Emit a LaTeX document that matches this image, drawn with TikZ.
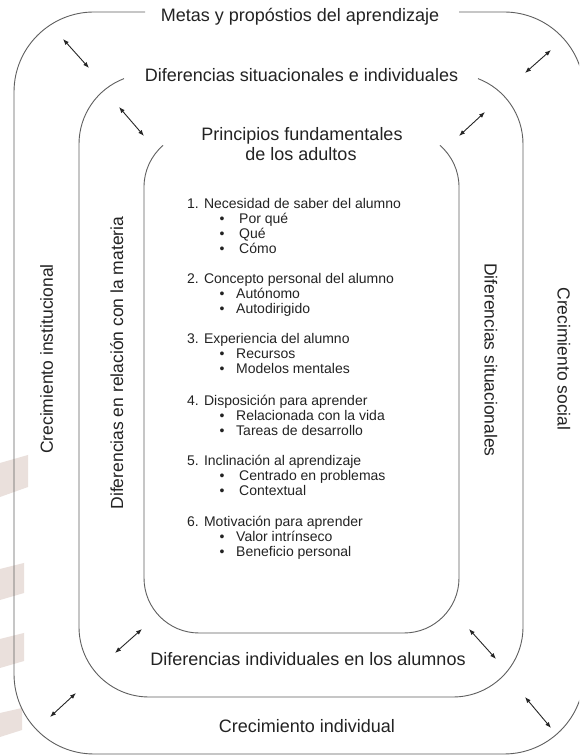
\documentclass[tikz,border=0pt]{standalone}
\usepackage{fontspec}
\setmainfont{Liberation Sans}
\usetikzlibrary{arrows.meta}
\definecolor{framegray}{RGB}{95,95,95}
\definecolor{txt}{RGB}{35,35,35}
\definecolor{wmcol}{RGB}{234,224,220}
\begin{document}
\begin{tikzpicture}[x=1pt,y=1pt,
  frame/.style={draw=framegray, line width=0.9pt},
  ttl/.style={font=\fontsize{18}{20}\selectfont, text=txt, anchor=base, inner sep=0pt},
  vlab/.style={font=\fontsize{17.5}{20}\selectfont, text=txt, anchor=base, inner sep=0pt},
  item/.style={font=\fontsize{14}{15}\selectfont, text=txt, anchor=base west, inner sep=0pt},
  bul/.style={font=\fontsize{14}{15}\selectfont, text=txt, anchor=base, inner sep=0pt},
  dbl/.style={{Latex[length=6pt,width=4.5pt]}-{Latex[length=6pt,width=4.5pt]}, line width=0.9pt, draw=black!85},
  wm/.style={fill=wmcol, draw=none}]
\useasboundingbox (0,0) rectangle (579,755);
\begin{scope}
\clip (0,0) rectangle (579,755);
\fill[white] (0,0) rectangle (579,755);
% faint background watermark stripes
\fill[wm] (0,258) -- (28,268) -- (28,300) -- (0,292) -- cycle;
\fill[wm] (0,155) -- (24,162) -- (24,192) -- (0,186) -- cycle;
\fill[wm] (0,87) -- (24,94) -- (24,122) -- (0,116) -- cycle;
\fill[wm] (0,18) -- (22,25) -- (22,47) -- (0,42) -- cycle;
% outer frame
\draw[frame] (145,743) -- (94,743) arc[start angle=90,end angle=180,radius=80]
  -- (14,81) arc[start angle=180,end angle=270,radius=80]
  -- (504,1) arc[start angle=270,end angle=360,radius=80]
  -- (584,663) arc[start angle=0,end angle=90,radius=80] -- (459,743);
% middle frame
\draw[frame] ([shift={(149,611)}]110.9:70) arc[start angle=110.9,end angle=180,radius=70]
  -- (79,128) arc[start angle=180,end angle=270,radius=70]
  -- (453,58) arc[start angle=270,end angle=360,radius=70]
  -- (523,611) arc[start angle=0,end angle=69.1,radius=70];
% inner frame
\draw[frame] ([shift={(199,568)}]130.9:55) arc[start angle=130.9,end angle=180,radius=55]
  -- (144,177) arc[start angle=180,end angle=270,radius=55]
  -- (404,122) arc[start angle=270,end angle=360,radius=55]
  -- (459,568) arc[start angle=0,end angle=49.1,radius=55];
\end{scope}

% titles
\node[ttl] (metas) at (300,733) {Metas y propóstios del aprendizaje};
\node[ttl] (difsi) at (301.5,673) {Diferencias situacionales e individuales};
\node[ttl] (princ) at (302,614) {Principios fundamentales};
\node[ttl] (adult) at (301,594) {de los adultos};
\node[ttl] (difal) at (308,89) {Diferencias individuales en los alumnos};
\node[ttl] (crind) at (307,22) {Crecimiento individual};

% side labels
\node[vlab, rotate=90] (crinst) at (53,396) {Crecimiento institucional};
\node[vlab, rotate=90] (difmat) at (123,392) {Diferencias en relación con la materia};
\node[vlab, rotate=-90] (difsit) at (484.5,395) {Diferencias situacionales};
\node[vlab, rotate=-90] (crsoc) at (557.5,396) {Crecimiento social};

% list
\node[item] (h1) at (187,546.4) {1. Necesidad de saber del alumno};
\node[bul] (d11) at (222,531.4) {•}; \node[item] (t11) at (239,531.4) {Por qué};
\node[bul] (d12) at (222,516.4) {•}; \node[item] (t12) at (239,516.4) {Qué};
\node[bul] (d13) at (222,501.4) {•}; \node[item] (t13) at (239,501.4) {Cómo};

\node[item] (h2) at (187,471.4) {2. Concepto personal del alumno};
\node[bul] (d21) at (222,456.4) {•}; \node[item] (t21) at (236,456.4) {Autónomo};
\node[bul] (d22) at (222,441.4) {•}; \node[item] (t22) at (236,441.4) {Autodirigido};

\node[item] (h3) at (187,411.4) {3. Experiencia del alumno};
\node[bul] (d31) at (222,396.4) {•}; \node[item] (t31) at (236,396.4) {Recursos};
\node[bul] (d32) at (222,381.4) {•}; \node[item] (t32) at (236,381.4) {Modelos mentales};

\node[item] (h4) at (187,349.4) {4. Disposición para aprender};
\node[bul] (d41) at (222,334.4) {•}; \node[item] (t41) at (236,334.4) {Relacionada con la vida};
\node[bul] (d42) at (222,319.4) {•}; \node[item] (t42) at (236,319.4) {Tareas de desarrollo};

\node[item] (h5) at (187,289.4) {5. Inclinación al aprendizaje};
\node[bul] (d51) at (222,274.4) {•}; \node[item] (t51) at (239,274.4) {Centrado en problemas};
\node[bul] (d52) at (222,259.4) {•}; \node[item] (t52) at (239,259.4) {Contextual};

\node[item] (h6) at (187,228.4) {6. Motivación para aprender};
\node[bul] (d61) at (222,213.4) {•}; \node[item] (t61) at (236,213.4) {Valor intrínseco};
\node[bul] (d62) at (222,198.4) {•}; \node[item] (t62) at (236,198.4) {Beneficio personal};

% double arrows between rings
\coordinate (a1s) at (63,716);  \coordinate (a1e) at (89,687);
\coordinate (a2s) at (525,682); \coordinate (a2e) at (551,705);
\coordinate (a3s) at (50,38);   \coordinate (a3e) at (76,62);
\coordinate (a4s) at (525,58);  \coordinate (a4e) at (551,27);
\coordinate (b1s) at (119,648); \coordinate (b1e) at (144,619);
\coordinate (b2s) at (459,619); \coordinate (b2e) at (485,643);
\coordinate (b3s) at (115,102); \coordinate (b3e) at (142,126);
\coordinate (b4s) at (469,126); \coordinate (b4e) at (496,96);
\foreach \p in {a1,a2,a3,a4,b1,b2,b3,b4} \draw[dbl] (\p s) -- (\p e);
\end{tikzpicture}
\end{document}
